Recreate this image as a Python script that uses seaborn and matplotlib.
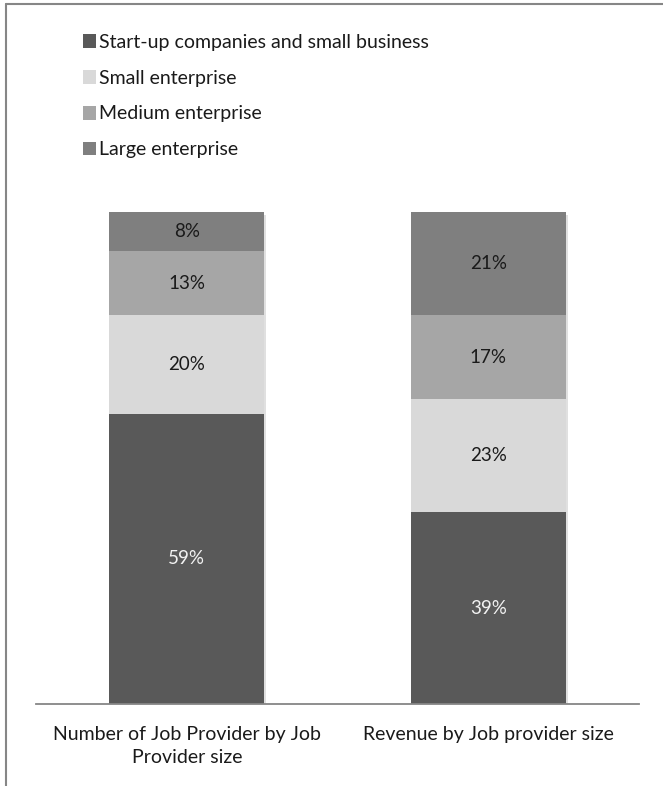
import matplotlib
matplotlib.use("Agg")
import matplotlib.pyplot as plt
import matplotlib.patheffects as pe
from matplotlib.patches import Patch
from matplotlib.lines import Line2D
import numpy as np
import seaborn as sns

categories = ["Number of Job Provider by Job\nProvider size", "Revenue by Job provider size"]
segments = ["Start-up companies and small business", "Small enterprise",
            "Medium enterprise", "Large enterprise"]
startup = [59, 39]
small = [20, 23]
medium = [13, 17]
large = [8, 21]
colors = ["#595959", "#d9d9d9", "#a6a6a6", "#7f7f7f"]
label_colors = ["#f2f2f2", "#1a1a1a", "#1a1a1a", "#1a1a1a"]

sns.set_theme(style="white")
plt.rcParams["font.family"] = ["Lato", "DejaVu Sans"]

W, H = 663, 786
fig = plt.figure(figsize=(W / 100, H / 100), dpi=100)
ax = fig.add_axes([36 / W, (H - 704) / H, 603 / W, 492 / H])

series = [startup, small, medium, large]
cum = np.cumsum(np.array(series), axis=0)

# draw cumulative totals from the top segment down so each layer covers the one below
for i in range(len(series) - 1, -1, -1):
    sns.barplot(x=categories, y=cum[i], color=colors[i], width=0.514,
                saturation=1, ax=ax, linewidth=0)

shadow = [pe.SimplePatchShadow(offset=(1.5, -2), shadow_rgbFace="#000000", alpha=0.12), pe.Normal()]
for p in ax.patches[:len(categories)]:
    p.set_path_effects(shadow)

for i, vals in enumerate(series):
    bottoms = cum[i] - np.array(vals)
    for j, v in enumerate(vals):
        ax.text(j, bottoms[j] + v / 2, f"{v}%", ha="center", va="center",
                fontsize=13.5, color=label_colors[i])

ax.set_xlim(-0.5, 1.5)
ax.set_ylim(0, 100)
ax.set_yticks([])
ax.set_ylabel("")
for s in ["top", "right", "left"]:
    ax.spines[s].set_visible(False)
ax.spines["bottom"].set_color("#868686")
ax.spines["bottom"].set_linewidth(1.3)
ax.tick_params(axis="x", length=0, pad=16, labelsize=14, colors="#1a1a1a")
ax.set_xticks(range(len(categories)))
ax.set_xticklabels(categories, linespacing=1.4)

handles = [Patch(facecolor=c, edgecolor="none") for c in colors]
fig.legend(handles, segments, loc="upper left", bbox_to_anchor=(75 / W, 1 - 26 / H),
           frameon=False, fontsize=14, handlelength=0.7, handleheight=0.7,
           handletextpad=0.15, labelspacing=0.97, borderaxespad=0,
           labelcolor="#1a1a1a")

# outer frame lines
fig.add_artist(Line2D([6 / W, 1], [1 - 4 / H, 1 - 4 / H], color="#868686", lw=1.5,
                      transform=fig.transFigure))
fig.add_artist(Line2D([6 / W, 6 / W], [0, 1 - 4 / H], color="#868686", lw=1.5,
                      transform=fig.transFigure))

fig.savefig("out.png", dpi=100)
